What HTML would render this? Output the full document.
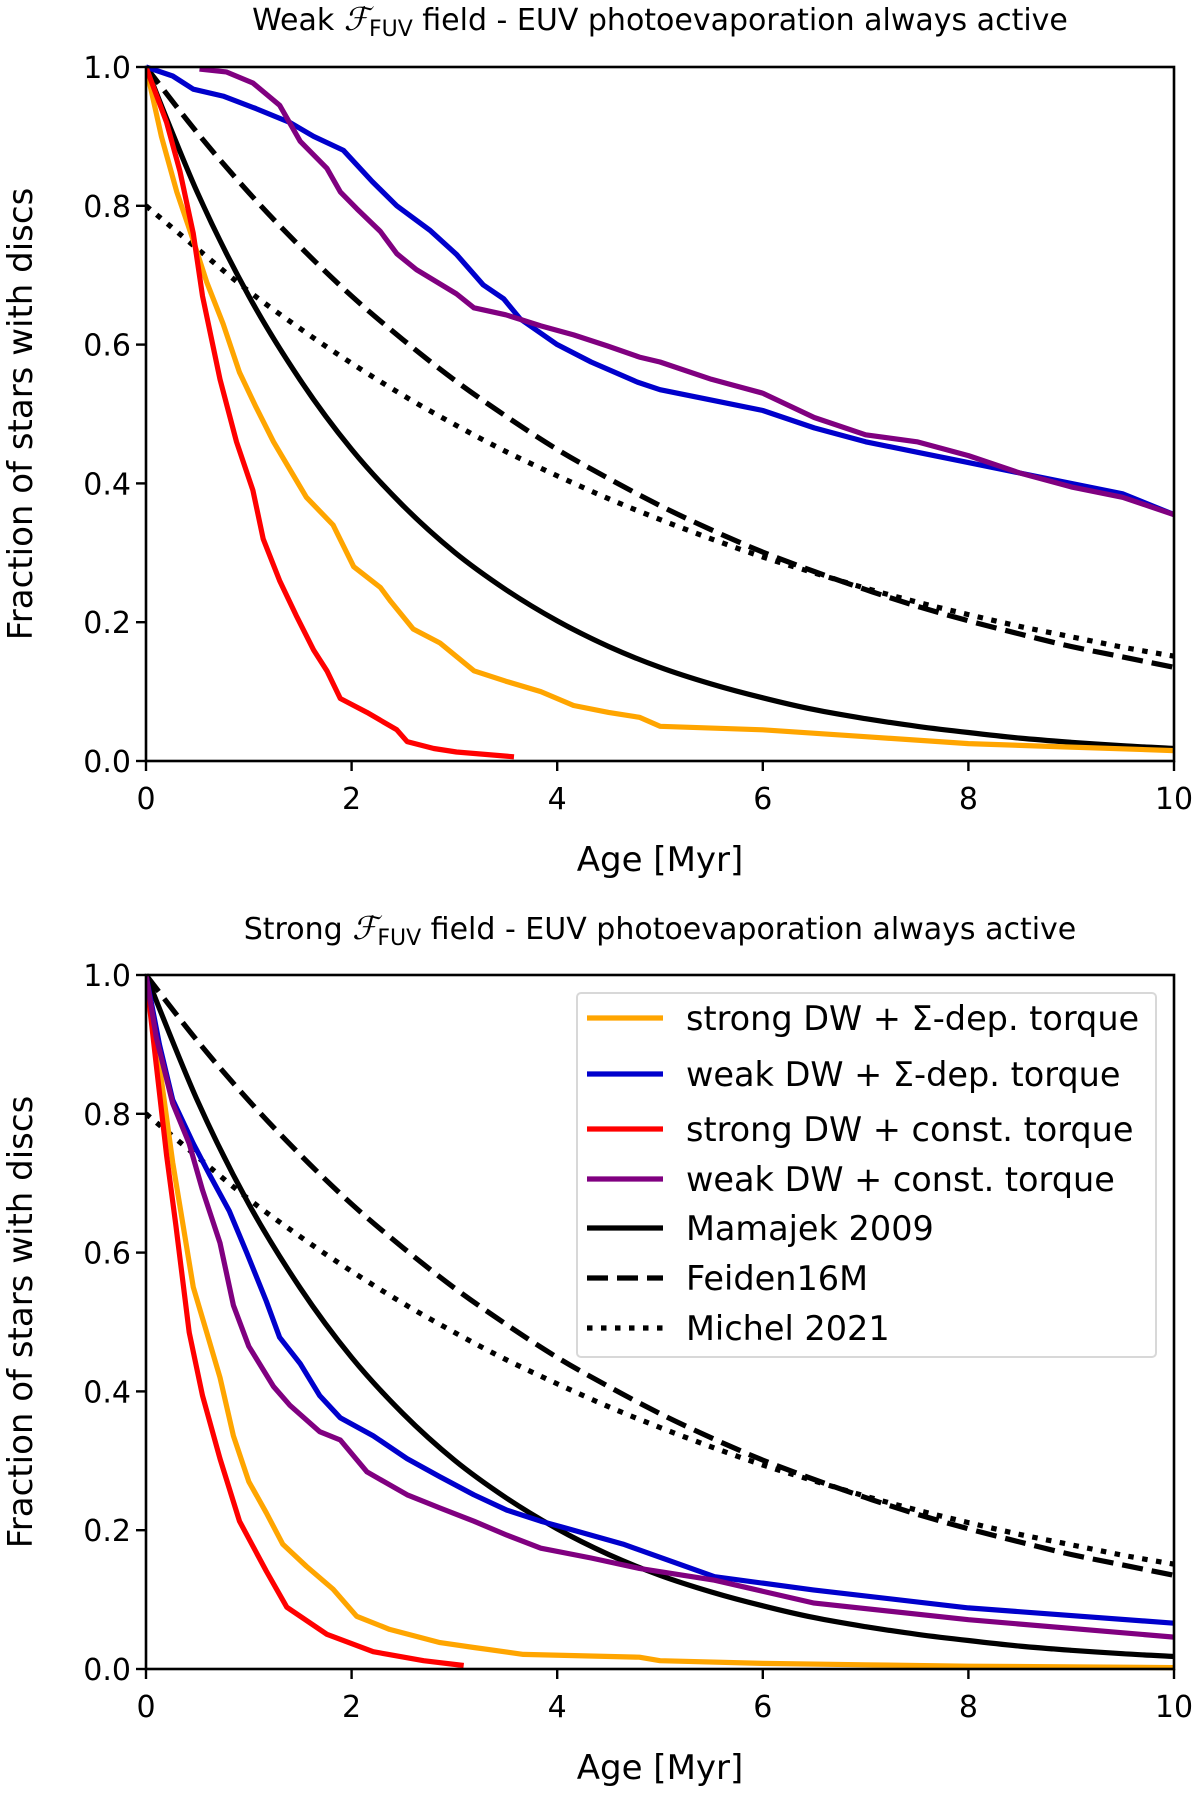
<!DOCTYPE html>
<html><head><meta charset="utf-8"><style>
html,body{margin:0;padding:0;background:#fff;}
svg{display:block;font-family:"DejaVu Sans","Liberation Sans",sans-serif;}
</style></head><body>
<svg id="chart" width="1200" height="1799" viewBox="0 0 1200 1799" xmlns="http://www.w3.org/2000/svg"></svg>
<script>
// ---- data ----
const refT = [0,0.5,1,1.5,2,2.5,3,3.5,4,4.5,5,5.5,6,6.5,7,7.5,8,8.5,9,9.5,10];
const mamajek = [1,0.819,0.670,0.549,0.449,0.368,0.301,0.247,0.202,0.165,0.135,0.111,0.091,0.074,0.061,0.050,0.041,0.033,0.027,0.022,0.018];
const feiden  = [1,0.905,0.819,0.741,0.670,0.607,0.549,0.497,0.449,0.407,0.368,0.333,0.301,0.273,0.247,0.223,0.202,0.183,0.165,0.150,0.135];
const michel  = [0.8,0.738,0.677,0.623,0.573,0.527,0.485,0.446,0.411,0.378,0.348,0.320,0.294,0.271,0.249,0.229,0.211,0.194,0.179,0.164,0.151];

// weak field panel
const wOrangeT = [0,0.15,0.3,0.46,0.59,0.75,0.91,1.07,1.24,1.4,1.56,1.82,2.02,2.28,2.38,2.6,2.86,3.19,3.5,3.84,4.16,4.5,4.8,5,6,7,8,9,10];
const wOrangeV = [1,0.9,0.82,0.75,0.69,0.63,0.56,0.51,0.46,0.42,0.38,0.34,0.28,0.25,0.23,0.19,0.17,0.13,0.115,0.10,0.08,0.07,0.063,0.05,0.045,0.035,0.025,0.02,0.015];
const wRedT = [0,0.2,0.33,0.46,0.55,0.72,0.88,1.04,1.14,1.3,1.46,1.63,1.76,1.89,2.15,2.44,2.54,2.8,3.02,3.58];
const wRedV = [1,0.92,0.85,0.76,0.67,0.55,0.46,0.39,0.32,0.26,0.21,0.16,0.13,0.09,0.07,0.045,0.028,0.018,0.013,0.006];
const wBlueT = [0,0.26,0.46,0.75,1.07,1.4,1.63,1.92,2.2,2.44,2.76,3.02,3.28,3.48,3.64,4.0,4.33,4.78,5,5.5,6,6.5,7,7.5,8,8.5,9,9.5,10];
const wBlueV = [1,0.987,0.968,0.958,0.94,0.92,0.90,0.88,0.835,0.80,0.765,0.73,0.686,0.666,0.637,0.60,0.575,0.546,0.535,0.52,0.505,0.48,0.46,0.445,0.43,0.415,0.40,0.385,0.355];
const wPurpleT = [0.52,0.78,1.04,1.3,1.5,1.76,1.89,2.05,2.28,2.44,2.63,3.02,3.19,3.5,3.84,4.16,4.49,4.8,5,5.5,6,6.5,7,7.5,8,8.5,9,9.5,10];
const wPurpleV = [0.997,0.993,0.977,0.945,0.893,0.854,0.82,0.796,0.763,0.731,0.708,0.673,0.653,0.643,0.627,0.614,0.598,0.582,0.575,0.55,0.53,0.495,0.47,0.46,0.44,0.415,0.395,0.38,0.355];

// strong field panel
const sOrangeT = [0,0.13,0.26,0.36,0.46,0.59,0.72,0.85,1.0,1.17,1.33,1.56,1.82,2.05,2.37,2.86,3.19,3.67,4.8,5,6,7,8,10];
const sOrangeV = [1,0.87,0.73,0.64,0.55,0.485,0.42,0.336,0.27,0.225,0.18,0.148,0.115,0.076,0.057,0.038,0.031,0.021,0.017,0.012,0.008,0.006,0.004,0.002];
const sRedT = [0,0.1,0.2,0.29,0.42,0.55,0.72,0.91,1.17,1.37,1.76,2.21,2.7,3.09];
const sRedV = [1,0.87,0.74,0.64,0.485,0.394,0.303,0.213,0.141,0.089,0.05,0.025,0.012,0.005];
const sBlueT = [0,0.13,0.26,0.46,0.62,0.81,0.98,1.17,1.3,1.5,1.69,1.89,2.21,2.54,2.86,3.19,3.51,3.84,4.16,4.64,5.53,6.49,8.0,10];
const sBlueV = [1,0.90,0.82,0.757,0.712,0.66,0.60,0.53,0.478,0.44,0.394,0.362,0.336,0.303,0.277,0.251,0.229,0.213,0.20,0.18,0.133,0.114,0.088,0.066];
const sPurpleT = [0,0.1,0.26,0.42,0.55,0.72,0.85,1.0,1.24,1.4,1.69,1.89,2.15,2.54,2.86,3.19,3.51,3.84,4.33,4.8,5.53,6.5,8.0,10];
const sPurpleV = [1,0.91,0.815,0.757,0.69,0.614,0.524,0.465,0.407,0.38,0.342,0.33,0.284,0.251,0.232,0.213,0.193,0.174,0.16,0.145,0.128,0.095,0.071,0.046];

const xTicks = [0,2,4,6,8,10];
const yTicks = [0,0.2,0.4,0.6,0.8,1.0];
const legendLabels = ["strong DW + \u03A3-dep. torque","weak DW + \u03A3-dep. torque","strong DW + const. torque","weak DW + const. torque","Mamajek 2009","Feiden16M","Michel 2021"];

// ---- drawing ----
const NS = "http://www.w3.org/2000/svg";
const svg = document.getElementById('chart');
function mk(tag, attrs, parent){
  const e = document.createElementNS(NS, tag);
  for (const k in attrs) e.setAttribute(k, attrs[k]);
  (parent||svg).appendChild(e);
  return e;
}
const X0 = 146, X1 = 1174;
const LW = 5.2;
function xs(t){ return X0 + (t/10)*(X1-X0); }
function ysF(top){ const bot = top + 694; return v => bot - v*694; }

function stepPath(T, V, ys){
  let d = '';
  for (let i=0;i<T.length;i++){ d += (i?'L':'M') + xs(T[i]).toFixed(1) + ' ' + ys(V[i]).toFixed(1); }
  return d;
}
function smoothPath(T, V, ys){
  const p = T.map((t,i)=>[xs(t), ys(V[i])]);
  let d = 'M'+p[0][0].toFixed(1)+' '+p[0][1].toFixed(1);
  for (let i=0;i<p.length-1;i++){
    const p0=p[Math.max(0,i-1)], p1=p[i], p2=p[i+1], p3=p[Math.min(p.length-1,i+2)];
    const c1=[p1[0]+(p2[0]-p0[0])/6, p1[1]+(p2[1]-p0[1])/6];
    const c2=[p2[0]-(p3[0]-p1[0])/6, p2[1]-(p3[1]-p1[1])/6];
    d += 'C'+c1[0].toFixed(1)+' '+c1[1].toFixed(1)+' '+c2[0].toFixed(1)+' '+c2[1].toFixed(1)+' '+p2[0].toFixed(1)+' '+p2[1].toFixed(1);
  }
  return d;
}

function panel(top, titleWord, titleY, sets, withLegend, prefix){
  const ys = ysF(top);
  const bot = top + 694;
  const g = mk('g', {});
  
  
  const title = mk('text', {x: 660, y: titleY, 'text-anchor':'middle', 'font-size': 30, fill:'#000'}, g);
  
  
  title.innerHTML = titleWord + ' <tspan font-family="Liberation Serif, serif" font-style="italic" font-size="32">\u2131</tspan><tspan font-size="22" dy="6">FUV</tspan><tspan dy="-6"> field - EUV photoevaporation always active</tspan>';
  const colors = {orange:'#ffa500', blue:'#0000cc', red:'#ff0000', purple:'#800080'};
  const clip = mk('clipPath', {id: prefix+'-clip'}, g);
  mk('rect', {x: X0, y: top-3, width: X1-X0, height: 700}, clip);
  const sg = mk('g', {'clip-path': 'url(#'+prefix+'-clip)'}, g);
  const order = ['orange','blue','red','purple'];
  const refs = [[mamajek,'none'],[feiden,'21 9'],[michel,'5.5 8.5']];
  const refNames = ['mamajek-2009-line','feiden16m-line','michel-2021-line'];
  refs.forEach((r,i)=>{
    const a = {d: smoothPath(refT, r[0], ys), fill:'none', stroke:'#000', 'stroke-width':LW};
    if (r[1] !== 'none') a['stroke-dasharray'] = r[1];
    const p = mk('path', a, sg);
    
    
  });
  order.forEach(c=>{
    const s = sets[c];
    const p = mk('path', {d: stepPath(s[0], s[1], ys), fill:'none', stroke: colors[c], 'stroke-width':LW, 'stroke-linejoin':'round'}, sg);
    
    
  });
  const fr = mk('rect', {x: X0, y: top, width: X1-X0, height: 694, fill:'none', stroke:'#000', 'stroke-width':2.6}, g);
  
  
  xTicks.forEach(t=>{
    mk('line', {x1: xs(t), x2: xs(t), y1: bot, y2: bot+10, stroke:'#000', 'stroke-width':2.4}, g);
    const tx = mk('text', {x: xs(t), y: bot+48, 'text-anchor':'middle', 'font-size':30, fill:'#000'}, g);
    
    
    tx.textContent = String(t);
  });
  yTicks.forEach(v=>{
    mk('line', {x1: X0-10, x2: X0, y1: ys(v), y2: ys(v), stroke:'#000', 'stroke-width':2.4}, g);
    const tx = mk('text', {x: X0-15, y: ys(v)+11, 'text-anchor':'end', 'font-size':30, fill:'#000'}, g);
    
    
    tx.textContent = v.toFixed(1);
  });
  const xl = mk('text', {x: (X0+X1)/2, y: bot+110, 'text-anchor':'middle', 'font-size':34, fill:'#000'}, g);
  
  
  xl.textContent = 'Age [Myr]';
  const cy = top + 347;
  const yl = mk('text', {x: 32, y: cy, 'text-anchor':'middle', 'font-size':34, fill:'#000', transform:'rotate(-90 32 '+cy+')'}, g);
  
  
  yl.textContent = 'Fraction of stars with discs';

  if (withLegend){
    const lg = mk('g', {}, g);
    
    
    mk('rect', {x: 577, y: 993, width: 579, height: 364, rx: 4, fill:'#fff', 'fill-opacity':0.85, stroke:'#d8d8d8', 'stroke-width':2}, lg);
    const lc = ['#ffa500','#0000cc','#ff0000','#800080','#000','#000','#000'];
    const ld = [null,null,null,null,null,'21 9','5.5 8.5'];
    const rows = [1018,1074,1129,1179,1228,1278,1328];
    legendLabels.forEach((lab,i)=>{
      const a = {x1:587, x2:663, y1: rows[i], y2: rows[i], stroke: lc[i], 'stroke-width':LW};
      if (ld[i]) a['stroke-dasharray'] = ld[i];
      mk('line', a, lg);
      const t = mk('text', {x: 686, y: rows[i]+12, 'font-size':33.5, fill:'#000'}, lg);
      
      
      t.textContent = lab;
    });
  }
}

panel(67, 'Weak', 30, {orange:[wOrangeT,wOrangeV], blue:[wBlueT,wBlueV], red:[wRedT,wRedV], purple:[wPurpleT,wPurpleV]}, false, 'weak-field');
panel(975, 'Strong', 939, {orange:[sOrangeT,sOrangeV], blue:[sBlueT,sBlueV], red:[sRedT,sRedV], purple:[sPurpleT,sPurpleV]}, true, 'strong-field');
</script>
</body></html>
